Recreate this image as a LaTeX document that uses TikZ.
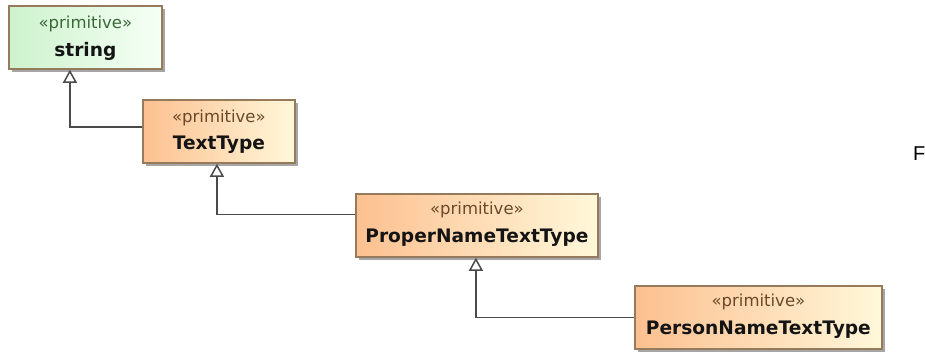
\documentclass[tikz,border=0pt]{standalone}
\usepackage{fontspec}
\usepackage{xcolor}
\usepackage{tikz}
\usetikzlibrary{positioning, arrows.meta, shadows}
\newfontfamily\umlfont{DejaVu Sans}
\setmainfont{Liberation Sans}

\definecolor{boxline}{HTML}{957A5C}
\definecolor{greenL}{HTML}{CDF2CD}
\definecolor{greenR}{HTML}{F6FFF6}
\definecolor{orangeL}{HTML}{FCC090}
\definecolor{orangeR}{HTML}{FFF8DA}
\definecolor{stereoGreen}{HTML}{3A6836}
\definecolor{stereoBrown}{HTML}{6A4828}
\definecolor{genline}{HTML}{4A4A4A}

\begin{document}
\begin{tikzpicture}[x=1pt, y=-1pt,
    classbox/.style={draw=boxline, line width=1.8pt, anchor=north west,
        minimum height=63pt, inner sep=0pt,
        drop shadow={shadow xshift=3.5pt, shadow yshift=-3.5pt, fill=black!35, opacity=1}},
    primbox/.style={classbox, left color=orangeL, right color=orangeR},
    basebox/.style={classbox, left color=greenL, right color=greenR},
    stereo/.style={font=\umlfont\fontsize{16.5}{16.5}\selectfont, text=stereoBrown, inner sep=0pt},
    cname/.style={font=\umlfont\bfseries\fontsize{18.6}{18.6}\selectfont, text=black!92, inner sep=0pt},
    gen/.style={draw=genline, line width=1.8pt,
        -{Triangle[open, length=13pt, width=14pt, fill=white, line width=1.5pt]}}]
    \useasboundingbox (0,0) rectangle (925,354);

    % class boxes
    \node (string) [basebox, minimum width=153pt] at (8,5) {};
    \node (textT) [primbox, minimum width=152pt] at (142,99) {};
    \node (properT) [primbox, minimum width=242pt] at (355,193) {};
    \node (personT) [primbox, minimum width=247pt] at (634,285) {};

    % stereotypes and names
    \node (string-st) [stereo, text=stereoGreen] at ([yshift=-19pt]string.north) {«primitive»};
    \node (string-nm) [cname] at ([yshift=-46pt]string.north) {string};
    \node (textT-st) [stereo] at ([yshift=-19pt]textT.north) {«primitive»};
    \node (textT-nm) [cname] at ([yshift=-46pt]textT.north) {TextType};
    \node (properT-st) [stereo] at ([yshift=-17pt]properT.north) {«primitive»};
    \node (properT-nm) [cname] at ([yshift=-45pt]properT.north) {ProperNameTextType};
    \node (personT-st) [stereo] at ([yshift=-17pt]personT.north) {«primitive»};
    \node (personT-nm) [cname] at ([yshift=-45pt]personT.north) {PersonNameTextType};

    % generalizations
    \draw[gen] ([yshift=4.5pt]textT.west) -| ([xshift=-15.5pt]string.south);
    \draw[gen] ([yshift=11pt]properT.west) -| ([xshift=-2pt]textT.south);
    \draw[gen] (personT.west) -| ([xshift=-1pt]properT.south);

    \node (F) [anchor=base west, inner sep=0pt, font=\fontsize{20}{20}\selectfont] at (913,160) {F};
\end{tikzpicture}
\end{document}
